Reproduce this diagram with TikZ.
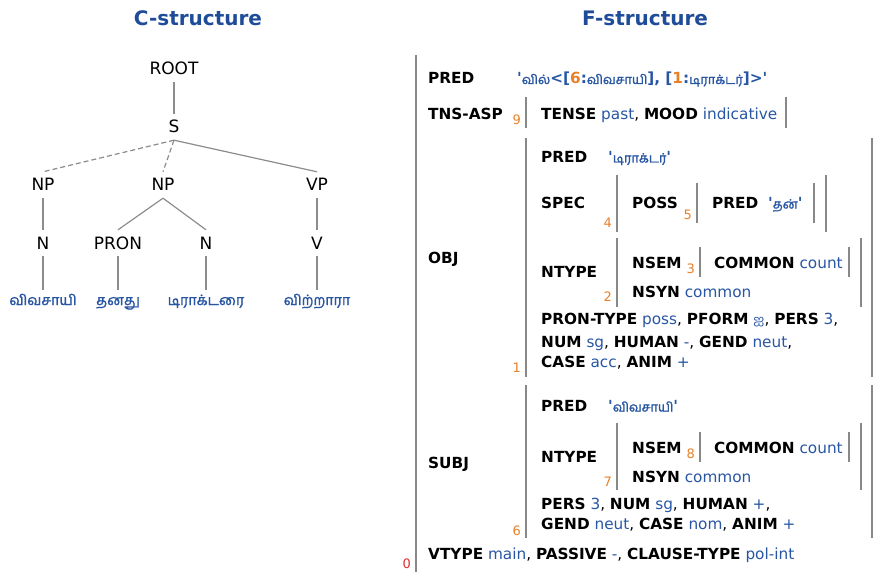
\documentclass[tikz,border=0pt]{standalone}
\usepackage{fontspec}
\setmainfont{DejaVu Sans}
\newfontfamily\tamilfont[Script=Tamil, Scale=0.84, AutoFakeBold=1.6]{Hind Madurai}
\usepackage{xcolor}
\usepackage{tikz}
\usetikzlibrary{positioning}

\definecolor{fsblue}{RGB}{40,86,163}
\definecolor{titleblue}{RGB}{30,76,152}
\definecolor{idxorange}{RGB}{232,128,40}
\definecolor{idxred}{RGB}{222,46,46}
\definecolor{bargray}{RGB}{136,136,136}
\definecolor{linegray}{RGB}{140,140,140}

\newcommand{\fk}[1]{\textbf{#1}}
\newcommand{\fv}[1]{\textcolor{fsblue}{#1}}
\newcommand{\tamw}[1]{{\tamilfont #1}}
\newcommand{\oi}[1]{\textcolor{idxorange}{#1}}
\newcommand{\q}{\textquotesingle}

\begin{document}
\begin{tikzpicture}[x=1pt, y=-1pt,
title/.style={font=\fontsize{20}{24}\selectfont\bfseries, text=titleblue},
cat/.style={font=\fontsize{17}{20}\selectfont, inner sep=7pt, text height=12pt, text depth=0pt},
word/.style={font=\fontsize{17}{20}\selectfont\tamilfont\bfseries, text=fsblue, inner sep=3pt, text height=12pt, text depth=4pt},
branch/.style={draw=linegray, line width=1.2pt},
headless/.style={branch, dash pattern=on 5pt off 3pt},
fkey/.style={font=\fontsize{15.3}{20}\selectfont\bfseries, anchor=base west, inner sep=0pt},
fline/.style={font=\fontsize{15.3}{20}\selectfont, anchor=base west, inner sep=0pt},
idx/.style={font=\fontsize{13}{14}\selectfont, text=idxorange, anchor=base east, inner sep=0pt},
fbar/.style={draw=bargray, line width=2.6pt},
]
\useasboundingbox (0,0) rectangle (875,572);

%Titles
\node[title] (ctitle) at (198,18) {C-structure};
\node[title] (ftitle) at (645,18) {F-structure};

%Nodes
\node[cat]  (root)  at (174,69)  {ROOT};
\node[cat]  (s)     at (174,127) {S};
\node[cat]  (npa)   at (43,185)  {NP};
\node[cat]  (npb)   at (163,185) {NP};
\node[cat]  (vp)    at (317,185) {VP};
\node[cat]  (na)    at (43,243)  {N};
\node[cat]  (pron)  at (118,243) {PRON};
\node[cat]  (nb)    at (206,243) {N};
\node[cat]  (v)     at (317,243) {V};
\node[word] (farmer)  at (43,301)  {விவசாயி};
\node[word] (his)     at (118,301) {தனது};
\node[word] (tractor) at (206,301) {டிராக்டரை};
\node[word] (sold)    at (317,301) {விற்றாரா};

%Lines
\draw[branch]   (root.south) -- (s.north);
\draw[headless] (s.south) -- (npa.north);
\draw[headless] (s.south) -- (npb.north);
\draw[branch]   (s.south) -- (vp.north);
\draw[branch]   (npa.south) -- (na.north);
\draw[branch]   (npb.south) -- (pron.north);
\draw[branch]   (npb.south) -- (nb.north);
\draw[branch]   (vp.south) -- (v.north);
\draw[branch]   (na.south) -- (farmer.north);
\draw[branch]   (pron.south) -- (his.north);
\draw[branch]   (nb.south) -- (tractor.north);
\draw[branch]   (v.south) -- (sold.north);

%F-structure: outer level
\node[fkey]  (pred)    at (428,84)    {PRED};
\node[fline] (predval) at (517,84)    {\fv{\bfseries\q\tamw{வில்}<[\oi{6}:\tamw{விவசாயி}], [\oi{1}:\tamw{டிராக்டர்}]>\q}};
\node[fkey]  (tnsasp)  at (428,119.5) {TNS-ASP};
\node[idx]   (ix9)     at (521,125)   {9};
\node[fline] (tense)   at (541,119.5) {\fk{TENSE} \fv{past}, \fk{MOOD} \fv{indicative}};
\node[fkey]  (obj)     at (428,263.5) {OBJ};
\node[fkey]  (subj)    at (428,468.5) {SUBJ};
\node[fline] (vtype)   at (428,559.5) {\fk{VTYPE} \fv{main}, \fk{PASSIVE} \fv{-}, \fk{CLAUSE-TYPE} \fv{pol-int}};
\node[idx, text=idxred] (ix0) at (411,568) {0};

%F-structure: OBJ
\node[idx]   (ix1)        at (521,372)   {1};
\node[fkey]  (objpred)    at (541,162.5) {PRED};
\node[fline] (objpredval) at (608,162.5) {\fv{\bfseries\q\tamw{டிராக்டர்}\q}};
\node[fkey]  (spec)       at (541,208.5) {SPEC};
\node[idx]   (ix4)        at (612,227)   {4};
\node[fkey]  (poss)       at (632,208.5) {POSS};
\node[idx]   (ix5)        at (692,219)   {5};
\node[fkey]  (posspred)   at (712,208.5) {PRED};
\node[fline] (possval)    at (768,208.5) {\fv{\bfseries\q\tamw{தன்}\q}};
\node[fkey]  (objntype)   at (541,277)   {NTYPE};
\node[idx]   (ix2)        at (612,301)   {2};
\node[fkey]  (objnsem)    at (632,268.5) {NSEM};
\node[idx]   (ix3)        at (695,273)   {3};
\node[fline] (objcommon)  at (714,268.5) {\fk{COMMON} \fv{count}};
\node[fline] (objnsyn)    at (632,297.5) {\fk{NSYN} \fv{common}};
\node[fline] (objrowa)    at (541,324.5) {\fk{PRON-TYPE} \fv{poss}, \fk{PFORM} \fv{\tamw{ஐ}}, \fk{PERS} \fv{3},};
\node[fline] (objrowb)    at (541,347.5) {\fk{NUM} \fv{sg}, \fk{HUMAN} \fv{-}, \fk{GEND} \fv{neut},};
\node[fline] (objrowc)    at (541,367.5) {\fk{CASE} \fv{acc}, \fk{ANIM} \fv{+}};

%F-structure: SUBJ
\node[idx]   (ix6)         at (521,535)   {6};
\node[fkey]  (subjpred)    at (541,411.5) {PRED};
\node[fline] (subjpredval) at (608,411.5) {\fv{\bfseries\q\tamw{விவசாயி}\q}};
\node[fkey]  (subjntype)   at (541,462.5) {NTYPE};
\node[idx]   (ix7)         at (612,486)   {7};
\node[fkey]  (subjnsem)    at (632,453.5) {NSEM};
\node[idx]   (ix8)         at (695,458)   {8};
\node[fline] (subjcommon)  at (714,453.5) {\fk{COMMON} \fv{count}};
\node[fline] (subjnsyn)    at (632,482.5) {\fk{NSYN} \fv{common}};
\node[fline] (subjrowa)    at (541,509.5) {\fk{PERS} \fv{3}, \fk{NUM} \fv{sg}, \fk{HUMAN} \fv{+},};
\node[fline] (subjrowb)    at (541,529.5) {\fk{GEND} \fv{neut}, \fk{CASE} \fv{nom}, \fk{ANIM} \fv{+}};

%Bars
\draw[fbar] (416,55) -- (416,572);
\draw[fbar] (526,97) -- (526,128);   \draw[fbar] (786,97) -- (786,128);
\draw[fbar] (526,138) -- (526,377);  \draw[fbar] (872,138) -- (872,377);
\draw[fbar] (617,175) -- (617,232);  \draw[fbar] (826,175) -- (826,232);
\draw[fbar] (697,183) -- (697,223);  \draw[fbar] (814,183) -- (814,223);
\draw[fbar] (617,238) -- (617,307);  \draw[fbar] (861,238) -- (861,307);
\draw[fbar] (700,247) -- (700,277);  \draw[fbar] (849,247) -- (849,277);
\draw[fbar] (526,385) -- (526,538);  \draw[fbar] (872,385) -- (872,538);
\draw[fbar] (617,423) -- (617,490);  \draw[fbar] (861,423) -- (861,490);
\draw[fbar] (700,432) -- (700,462);  \draw[fbar] (849,432) -- (849,462);
\end{tikzpicture}
\end{document}
